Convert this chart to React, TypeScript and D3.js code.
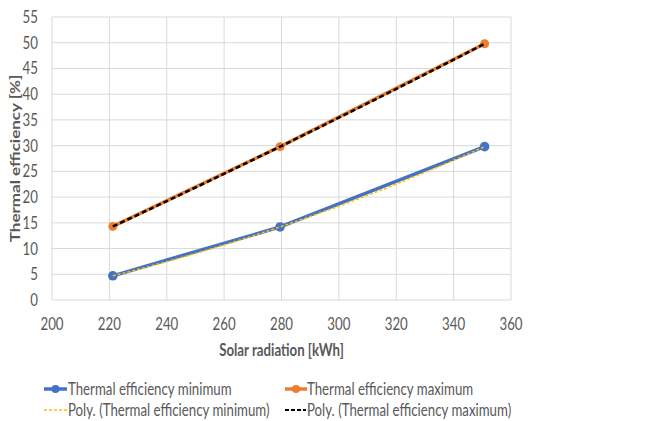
import React from "react";
import * as d3 from "d3";

const radiation = [221.2, 279.5, 350.8];
const effMin = [4.7, 14.2, 29.8];
const effMax = [14.3, 29.8, 49.8];
const xTicks = [200, 220, 240, 260, 280, 300, 320, 340, 360];
const yTicks = [0, 5, 10, 15, 20, 25, 30, 35, 40, 45, 50, 55];
const legendLabels = [
  "Thermal efficiency minimum",
  "Thermal efficiency maximum",
  "Poly. (Thermal efficiency minimum)",
  "Poly. (Thermal efficiency maximum)",
];

const BLUE = "#4472C4";
const ORANGE = "#ED7D31";
const YELLOW = "#FFC000";
const TEXT = "#595959";
const FONT = "Lato, 'Open Sans', sans-serif";
const FS = 17;
const SX = 0.78;

// quadratic (order-2 polynomial) trendline fitted through the points
function polyFit(xs: number[], ys: number[]) {
  return (x: number) => {
    let s = 0;
    for (let i = 0; i < xs.length; i++) {
      let t = ys[i];
      for (let j = 0; j < xs.length; j++) if (j !== i) t *= (x - xs[j]) / (xs[i] - xs[j]);
      s += t;
    }
    return s;
  };
}

function T(props: { x: number; y: number; anchor?: string; bold?: boolean; children: any }) {
  return (
    <text
      transform={`translate(${props.x},${props.y}) scale(${SX},1)`}
      dy="0.35em"
      textAnchor={props.anchor || "start"}
      fontSize={FS}
      fontWeight={props.bold ? "bold" : "normal"}
      fill={TEXT}
    >
      {props.children}
    </text>
  );
}

export default function App() {
  const W = 671, H = 421;
  const left = 52, right = 511, top = 17, bottom = 300;
  const x = d3.scaleLinear().domain([200, 360]).range([left, right]);
  const y = d3.scaleLinear().domain([0, 55]).range([bottom, top]);
  const line = d3.line<[number, number]>().x(d => x(d[0])).y(d => y(d[1]));
  const ptsMin = radiation.map((r, i) => [r, effMin[i]] as [number, number]);
  const ptsMax = radiation.map((r, i) => [r, effMax[i]] as [number, number]);
  const fMin = polyFit(radiation, effMin);
  const fMax = polyFit(radiation, effMax);
  const xs = d3.range(0, 61).map(i => radiation[0] + (radiation[2] - radiation[0]) * i / 60);
  const trendMin = xs.map(v => [v, fMin(v)] as [number, number]);
  const trendMax = xs.map(v => [v, fMax(v)] as [number, number]);

  return (
    <svg width={W} height={H} style={{ position: "absolute", left: 0, top: 0, background: "#fff" }} fontFamily={FONT}>
      <rect x={0} y={0} width={W} height={H} fill="#fff" />
      {xTicks.map(t => (
        <line key={"gx" + t} x1={x(t)} x2={x(t)} y1={top} y2={bottom} stroke="#d9d9d9" strokeWidth={1} />
      ))}
      {yTicks.map(t => (
        <line key={"gy" + t} x1={left} x2={right} y1={y(t)} y2={y(t)} stroke="#d9d9d9" strokeWidth={1} />
      ))}
      {yTicks.map(t => (
        <T key={"ty" + t} x={left - 14} y={y(t)} anchor="end">{t}</T>
      ))}
      {xTicks.map(t => (
        <T key={"tx" + t} x={x(t)} y={bottom + 24} anchor="middle">{t}</T>
      ))}
      <T x={(left + right) / 2} y={350} anchor="middle" bold>Solar radiation [kWh]</T>
      <text transform={`translate(15,${(top + bottom) / 2}) rotate(-90) scale(1,${SX})`} dy="0.35em" textAnchor="middle" fontSize={FS} fontWeight="bold" fill={TEXT}>Thermal efficiency [%]</text>

      <path d={line(ptsMin) || ""} fill="none" stroke={BLUE} strokeWidth={3.5} strokeLinejoin="round" />
      {ptsMin.map((p, i) => <circle key={"pm" + i} cx={x(p[0])} cy={y(p[1])} r={4.8} fill={BLUE} />)}
      <path d={line(ptsMax) || ""} fill="none" stroke={ORANGE} strokeWidth={3.5} strokeLinejoin="round" />
      {ptsMax.map((p, i) => <circle key={"px" + i} cx={x(p[0])} cy={y(p[1])} r={4.5} fill={ORANGE} />)}
      <path d={line(trendMin) || ""} fill="none" stroke={YELLOW} strokeWidth={1.5} strokeDasharray="3 2" />
      <path d={line(trendMax) || ""} fill="none" stroke="#000" strokeWidth={2.5} strokeDasharray="5 3" />

      {/* legend */}
      <line x1={44} x2={67} y1={389} y2={389} stroke={BLUE} strokeWidth={3.5} />
      <circle cx={55.5} cy={389} r={4} fill={BLUE} />
      <T x={68} y={389}>{legendLabels[0]}</T>
      <line x1={285} x2={307} y1={389} y2={389} stroke={ORANGE} strokeWidth={3.5} />
      <circle cx={296} cy={389} r={4} fill={ORANGE} />
      <T x={307} y={389}>{legendLabels[1]}</T>
      <line x1={44} x2={67} y1={410} y2={410} stroke={YELLOW} strokeWidth={1.5} strokeDasharray="3 2" />
      <T x={68} y={410}>{legendLabels[2]}</T>
      <line x1={285} x2={306} y1={410} y2={410} stroke="#000" strokeWidth={2} strokeDasharray="4 2" />
      <T x={307} y={410}>{legendLabels[3]}</T>
    </svg>
  );
}
